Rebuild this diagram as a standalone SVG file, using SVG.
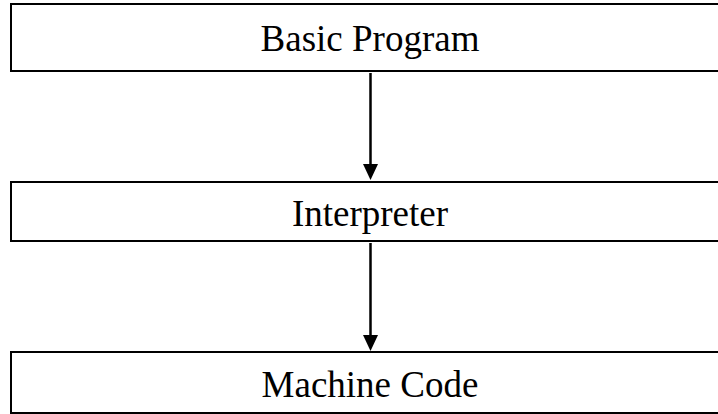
<svg xmlns="http://www.w3.org/2000/svg" width="718" height="414" viewBox="0 0 718 414">
  <style>
    .box { fill: #ffffff; stroke: #000000; stroke-width: 2; }
    .label { font-family: "Liberation Serif", "Times New Roman", serif; font-size: 37px; fill: #000000; text-anchor: middle; }
    .link { stroke: #000000; stroke-width: 2.5; fill: none; }
    .head { fill: #000000; }
  </style>
  <rect width="718" height="414" fill="#ffffff"/>
  <g id="basic-program">
    <rect class="box" x="11" y="4" width="718" height="67"/>
    <text class="label" x="370" y="51">Basic Program</text>
  </g>
  <g id="interpreter">
    <rect class="box" x="11" y="182" width="718" height="59"/>
    <text class="label" x="370" y="226">Interpreter</text>
  </g>
  <g id="machine-code">
    <rect class="box" x="11" y="352" width="718" height="61"/>
    <text class="label" x="370" y="397">Machine Code</text>
  </g>
  <g id="connectors">
    <line class="link" x1="370.5" y1="73" x2="370.5" y2="165"/>
    <polygon class="head" points="363,164 378,164 370.5,180"/>
    <line class="link" x1="370.5" y1="243" x2="370.5" y2="336"/>
    <polygon class="head" points="363,335 378,335 370.5,351"/>
  </g>
</svg>
